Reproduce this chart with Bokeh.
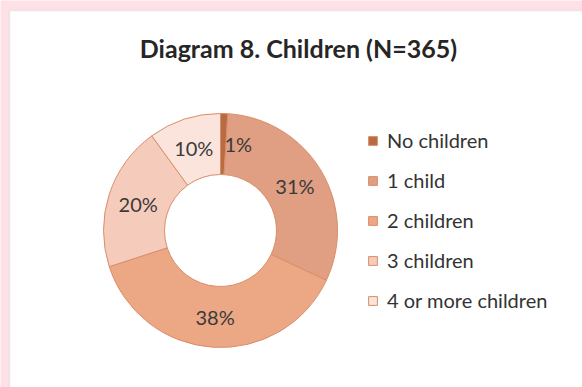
import math
from bokeh.plotting import figure
from bokeh.models import Range1d, Legend, LegendItem, ColumnDataSource, BoxAnnotation
from bokeh.core.properties import value
from bokeh.embed import file_html
from bokeh.resources import INLINE

# ---- data ----
title_text = "Diagram 8. Children  (N=365)"
categories = ["No children", "1 child", "2 children", "3 children", "4 or more children"]
percents = [1, 31, 38, 20, 10]
colors = ["#b86a43", "#e09e82", "#eca785", "#f5cbbb", "#fae4dc"]

W, H = 582, 387
FONT = "Lato"

# geometry (style)
cx, cy = 220, H - 230
r_out, r_in = 117, 56
r_lab = (r_out + r_in) / 2
label_dx = [15, 0, 0, 0, 0]  # small label nudges (style)

total = sum(percents)
starts, ends, lx, ly, labels = [], [], [], [], []
cum = 0.0
for v, dx in zip(percents, label_dx):
    a0 = math.pi / 2 - 2 * math.pi * cum / total
    cum += v
    a1 = math.pi / 2 - 2 * math.pi * cum / total
    starts.append(a0)
    ends.append(a1)
    mid = (a0 + a1) / 2
    lx.append(cx + r_lab * math.cos(mid) + dx)
    ly.append(cy + r_lab * math.sin(mid))
    labels.append(f"{v}%")

src = ColumnDataSource(dict(start=starts, end=ends, color=colors, cat=categories,
                            lx=lx, ly=ly, lab=labels))

p = figure(width=W, height=H, x_range=Range1d(0, W), y_range=Range1d(0, H),
           output_backend="svg", toolbar_location=None,
           x_axis_type=None, y_axis_type=None, min_border=0)
p.outline_line_color = None
p.grid.visible = False
p.background_fill_color = "#fde1e7"
p.border_fill_color = "#fde1e7"

panel = BoxAnnotation(left=9, right=W + 20, bottom=-20, top=H - 10,
                      fill_color="white", fill_alpha=1.0,
                      line_color="#cfcfcf", line_width=2, level="underlay")
p.add_layout(panel)

wedges = p.annular_wedge(x=cx, y=cy, inner_radius=r_in, outer_radius=r_out,
                         start_angle="start", end_angle="end", direction="clock",
                         fill_color="color", line_color="#d98e68", line_width=1,
                         source=src)

p.text(x="lx", y="ly", text="lab", source=src, text_align="center",
       text_baseline="middle", text_font=value(FONT), text_font_size="20px",
       text_color="#3a3a3a")

p.text(x=[301], y=[H - 47], text=[title_text], text_align="center",
       text_baseline="middle", text_font=value(FONT), text_font_size="25px",
       text_font_style="bold", text_color="#262626")

items = [LegendItem(label=c, renderers=[wedges], index=i) for i, c in enumerate(categories)]
legend = Legend(items=items, location=(367, 75), orientation="vertical",
                glyph_width=11, glyph_height=11, label_height=24, spacing=16,
                label_standoff=9, padding=0, margin=0,
                label_text_font=FONT, label_text_font_size="20px",
                label_text_color="#333333",
                background_fill_alpha=0, border_line_color=None)
p.add_layout(legend, "center")

open("out.html", "w").write(file_html(p, INLINE))
